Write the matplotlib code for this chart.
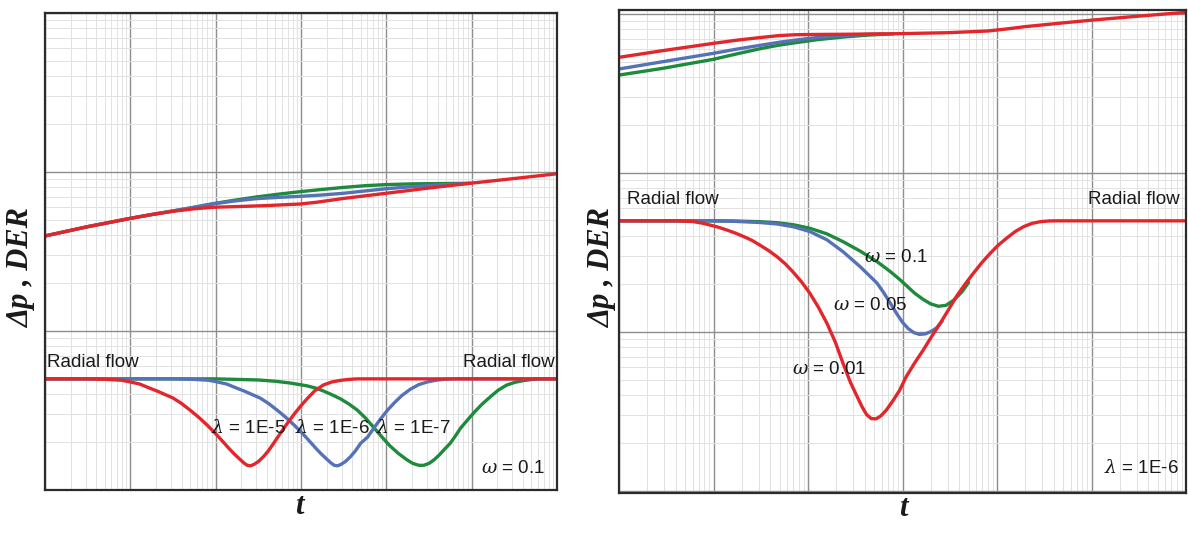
import numpy as np
import matplotlib
matplotlib.use("Agg")
import matplotlib.pyplot as plt
from matplotlib.ticker import LogLocator, NullFormatter

plt.rcParams['font.family'] = ['Liberation Sans', 'DejaVu Sans']
plt.rcParams['mathtext.fontset'] = 'custom'
plt.rcParams['mathtext.it'] = 'DejaVu Serif:italic'
plt.rcParams['mathtext.rm'] = 'Liberation Sans'

RED = '#e3262b'
BLUE = '#5672b6'
GREEN = '#1d8a3c'

# ---- left panel: omega = 0.1, lambda varies (log10 t, value) ----
lp_logt_red = [0, 0.5, 1.0, 1.25, 1.5, 1.75, 1.97, 2.29, 2.6, 2.99, 3.18, 3.5, 4.0, 4.5, 4.98, 5.5, 6.0]
lp_red = [3.96, 4.53, 5.11, 5.4, 5.66, 5.87, 6.0, 6.07, 6.15, 6.29, 6.45, 6.82, 7.35, 7.93, 8.49, 9.1, 9.75]
lp_logt_blue = [0, 0.5, 1.0, 1.25, 1.5, 1.75, 1.97, 2.2, 2.48, 2.75, 2.99, 3.25, 3.5, 3.75, 4.0, 4.3, 4.63, 4.98]
lp_blue = [3.96, 4.53, 5.11, 5.4, 5.69, 6.0, 6.3, 6.55, 6.8, 6.93, 7.03, 7.17, 7.35, 7.6, 7.85, 8.08, 8.3, 8.49]
lp_logt_green = [0, 0.5, 1.0, 1.25, 1.5, 1.75, 1.97, 2.2, 2.48, 2.75, 2.99, 3.25, 3.5, 3.75, 4.0, 4.3, 4.63, 4.98]
lp_green = [3.96, 4.53, 5.11, 5.4, 5.69, 6.0, 6.32, 6.62, 6.97, 7.27, 7.52, 7.77, 8.0, 8.2, 8.33, 8.42, 8.46, 8.49]

ld_logt_red = [0, 0.5, 0.7, 0.9, 1.0, 1.11, 1.2, 1.31, 1.4, 1.50, 1.6, 1.70, 1.8, 1.90, 2.0, 2.09,
               2.15, 2.22, 2.29, 2.33, 2.37, 2.41, 2.45, 2.5, 2.56, 2.62, 2.68, 2.76, 2.84, 2.92,
               2.99, 3.07, 3.16, 3.26, 3.36, 3.46, 3.56, 3.66, 6.0]
ld_red = [0.5, 0.5, 0.497, 0.49, 0.478, 0.464, 0.443, 0.42, 0.400, 0.379, 0.350, 0.318, 0.287,
          0.256, 0.226, 0.200, 0.184, 0.168, 0.155, 0.148, 0.143, 0.142, 0.145, 0.151, 0.162,
          0.177, 0.197, 0.228, 0.263, 0.300, 0.334, 0.374, 0.42, 0.457, 0.478, 0.489, 0.496, 0.5, 0.5]
ld_logt_blue = [0, 1.5, 1.72, 1.92, 2.02, 2.13, 2.22, 2.33, 2.42, 2.52, 2.62, 2.72, 2.82, 2.92,
                3.02, 3.11, 3.17, 3.24, 3.31, 3.35, 3.39, 3.43, 3.47, 3.52, 3.58, 3.64, 3.70,
                3.78, 3.86, 3.94, 4.01, 4.09, 4.18, 4.28, 4.38, 4.48, 4.58, 4.68, 4.8, 6.0]
ld_blue = [0.5, 0.5, 0.497, 0.49, 0.478, 0.464, 0.443, 0.42, 0.400, 0.379, 0.350, 0.318, 0.287,
           0.256, 0.226, 0.200, 0.184, 0.168, 0.155, 0.148, 0.143, 0.142, 0.145, 0.151, 0.162,
           0.177, 0.197, 0.215, 0.248, 0.283, 0.316, 0.352, 0.392, 0.43, 0.46, 0.478, 0.49,
           0.497, 0.5, 0.5]
ld_logt_green = [0, 2.0, 2.5, 2.7, 2.87, 3.07, 3.17, 3.26, 3.36, 3.46, 3.56, 3.66, 3.76, 3.85,
                 3.95, 4.04, 4.14, 4.24, 4.31, 4.38, 4.44, 4.5, 4.56, 4.62, 4.68, 4.75, 4.81,
                 4.87, 4.95, 5.02, 5.12, 5.22, 5.31, 5.41, 5.51, 5.61, 5.7, 5.8, 6.0]
ld_green = [0.5, 0.5, 0.492, 0.483, 0.471, 0.452, 0.438, 0.42, 0.398, 0.375, 0.348, 0.318, 0.282,
            0.248, 0.215, 0.19, 0.17, 0.155, 0.147, 0.143, 0.143, 0.147, 0.155, 0.166, 0.18,
            0.197, 0.219, 0.245, 0.275, 0.304, 0.346, 0.386, 0.424, 0.457, 0.476, 0.488, 0.495,
            0.5, 0.5]

# ---- right panel: lambda = 1E-6, omega varies ----
rp_logt_red = [0, 0.46, 1.0, 1.25, 1.51, 1.7, 1.87, 2.1, 2.40, 2.95, 3.48, 3.90, 4.1, 4.29, 4.65,
               5.02, 5.5, 6.0]
rp_red = [5.34, 5.88, 6.54, 6.85, 7.13, 7.32, 7.41, 7.44, 7.46, 7.52, 7.63, 7.82, 8.05, 8.32, 8.74,
          9.17, 9.7, 10.25]
rp_logt_blue = [0, 0.46, 1.0, 1.25, 1.51, 1.7, 1.87, 2.1, 2.40, 2.6, 2.8]
rp_blue = [4.51, 5.01, 5.66, 6.02, 6.38, 6.65, 6.86, 7.12, 7.34, 7.44, 7.48]
rp_logt_green = [0, 0.46, 1.0, 1.25, 1.51, 1.7, 1.87, 2.1, 2.40, 2.65, 2.9]
rp_green = [4.13, 4.55, 5.19, 5.62, 6.08, 6.38, 6.60, 6.9, 7.19, 7.38, 7.5]

rd_logt_red = [0, 0.6, 0.78, 0.87, 0.96, 1.05, 1.14, 1.23, 1.32, 1.41, 1.49, 1.58, 1.67, 1.76,
               1.84, 1.93, 2.02, 2.11, 2.20, 2.29, 2.37, 2.45, 2.52, 2.57, 2.62, 2.67, 2.72,
               2.77, 2.83, 2.90, 2.97, 3.04, 3.13, 3.22, 3.31, 3.40, 3.49, 3.57, 3.66, 3.75,
               3.84, 3.93, 4.01, 4.10, 4.19, 4.28, 4.37, 4.46, 4.55, 4.63, 6.0]
rd_red = [0.5, 0.5, 0.495, 0.485, 0.471, 0.456, 0.438, 0.419, 0.398, 0.376, 0.352, 0.326, 0.298,
          0.268, 0.239, 0.207, 0.175, 0.143, 0.1135, 0.086, 0.0636, 0.048, 0.0392, 0.034, 0.0302,
          0.0285, 0.0284, 0.0296, 0.0323, 0.0370, 0.043, 0.0524, 0.064, 0.077, 0.094, 0.1135,
          0.139, 0.167, 0.199, 0.234, 0.273, 0.313, 0.350, 0.388, 0.427, 0.459, 0.482, 0.494,
          0.499, 0.5, 0.5]
rd_logt_blue = [0, 0.96, 1.2, 1.49, 1.67, 1.85, 2.02, 2.2, 2.37, 2.55, 2.73, 2.80, 2.87, 2.94,
                3.0, 3.06, 3.12, 3.18, 3.24, 3.30, 3.36, 3.42]
rd_blue = [0.5, 0.5, 0.497, 0.488, 0.478, 0.458, 0.428, 0.38, 0.32, 0.258, 0.203, 0.177, 0.152,
           0.13, 0.115, 0.105, 0.099, 0.0965, 0.0972, 0.1005, 0.106, 0.117]
rd_logt_green = [0, 0.96, 1.2, 1.49, 1.67, 1.85, 2.02, 2.2, 2.37, 2.55, 2.73, 2.87, 2.97, 3.04,
                 3.13, 3.22, 3.30, 3.38, 3.46, 3.54, 3.63, 3.70]
rd_green = [0.5, 0.5, 0.499, 0.494, 0.487, 0.472, 0.449, 0.414, 0.37, 0.323, 0.277, 0.24, 0.214,
            0.196, 0.175, 0.16, 0.15, 0.145, 0.147, 0.158, 0.179, 0.205]


def style_axes(ax, ylim):
    ax.set_xscale('log')
    ax.set_yscale('log')
    ax.set_xlim(1, 1e6)
    ax.set_ylim(*ylim)
    for a in (ax.xaxis, ax.yaxis):
        a.set_major_locator(LogLocator(base=10, numticks=20))
        a.set_minor_locator(LogLocator(base=10, subs=np.arange(2, 10), numticks=20))
        a.set_major_formatter(NullFormatter())
        a.set_minor_formatter(NullFormatter())
    ax.tick_params(which='both', length=0)
    ax.grid(which='minor', color='#e2e2e2', lw=0.7)
    ax.grid(which='major', color='#8e8e8e', lw=1.0)
    ax.set_axisbelow(True)
    for s in ax.spines.values():
        s.set_color('#2b2b2b')
        s.set_linewidth(1.6)


def curve(ax, logt, vals, color):
    ax.plot(10 ** np.asarray(logt), vals, color=color, lw=2.4,
            solid_capstyle='round', solid_joinstyle='round')


fig = plt.figure(figsize=(11.88, 5.45), dpi=100)
axl = fig.add_axes([45 / 1188, 1 - 490 / 545, 512 / 1188, 477 / 545])
axr = fig.add_axes([619 / 1188, 1 - 493 / 545, 567 / 1188, 483 / 545])

style_axes(axl, (0.1, 100))
style_axes(axr, (0.0097, 10.6))

for lt, v, c in [(lp_logt_green, lp_green, GREEN), (lp_logt_blue, lp_blue, BLUE),
                 (lp_logt_red, lp_red, RED), (ld_logt_green, ld_green, GREEN),
                 (ld_logt_blue, ld_blue, BLUE), (ld_logt_red, ld_red, RED)]:
    curve(axl, lt, v, c)

for lt, v, c in [(rp_logt_green, rp_green, GREEN), (rp_logt_blue, rp_blue, BLUE),
                 (rp_logt_red, rp_red, RED), (rd_logt_green, rd_green, GREEN),
                 (rd_logt_blue, rd_blue, BLUE), (rd_logt_red, rd_red, RED)]:
    curve(axr, lt, v, c)

fs = 13.5
kw = dict(fontsize=fs, color='#1a1a1a', va='center')
axl.text(0.004, 0.268, 'Radial flow', transform=axl.transAxes, ha='left', **kw)
axl.text(0.996, 0.268, 'Radial flow', transform=axl.transAxes, ha='right', **kw)
axl.text(0.398, 0.13, r'$\lambda$ = 1E-5', transform=axl.transAxes, ha='center', **kw)
axl.text(0.561, 0.13, r'$\lambda$ = 1E-6', transform=axl.transAxes, ha='center', **kw)
axl.text(0.719, 0.13, r'$\lambda$ = 1E-7', transform=axl.transAxes, ha='center', **kw)
axl.text(0.914, 0.046, r'$\omega$ = 0.1', transform=axl.transAxes, ha='center', **kw)

axr.text(0.014, 0.607, 'Radial flow', transform=axr.transAxes, ha='left', **kw)
axr.text(0.989, 0.607, 'Radial flow', transform=axr.transAxes, ha='right', **kw)
axr.text(0.489, 0.487, r'$\omega$ = 0.1', transform=axr.transAxes, ha='center', **kw)
axr.text(0.443, 0.389, r'$\omega$ = 0.05', transform=axr.transAxes, ha='center', **kw)
axr.text(0.370, 0.255, r'$\omega$ = 0.01', transform=axr.transAxes, ha='center', **kw)
axr.text(0.921, 0.052, r'$\lambda$ = 1E-6', transform=axr.transAxes, ha='center', **kw)

lab = dict(family=['Liberation Serif', 'DejaVu Serif'], style='italic', weight='bold',
           color='#1a1a1a', ha='center', va='center')
fig.text(22 / 1188, 1 - 268 / 545, 'Δp , DER', rotation=90, fontsize=22, **lab)
fig.text(603 / 1188, 1 - 268 / 545, 'Δp , DER', rotation=90, fontsize=22, **lab)
fig.text(299 / 1188, 1 - 507 / 545, 't', fontsize=22, **lab)
fig.text(903 / 1188, 1 - 509 / 545, 't', fontsize=22, **lab)

fig.savefig('out.png', dpi=100)
